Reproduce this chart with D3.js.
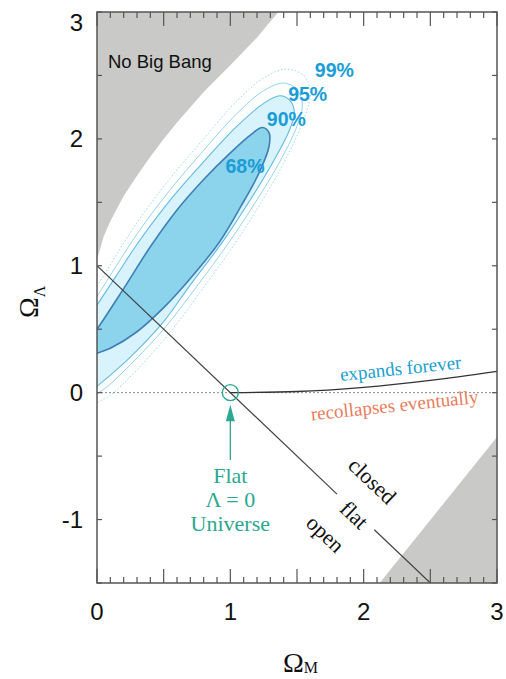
<!DOCTYPE html>
<html>
<head>
<style>
  body { margin: 0; background: #fff; }
  svg { display: block; }
  .sans { font-family: "Liberation Sans", Arial, sans-serif; }
  .serif { font-family: "Liberation Serif", "Times New Roman", serif; }
</style>
</head>
<body>
<script src="https://d3js.org/d3.v7.min.js"></script>
<script>
// axis ticks
const xTicks = [0, 1, 2, 3];
const yTicks = [-1, 0, 1, 2, 3];

// excluded regions (Omega_M, Omega_Lambda)
const noBigBang = [[0, 1.05], [0.02, 1.12], [0.05, 1.23], [0.1, 1.35], [0.2, 1.55], [0.3, 1.71],
  [0.4, 1.86], [0.5, 2.0], [0.6, 2.13], [0.8, 2.37], [1.0, 2.58], [1.2, 2.8], [1.36, 3.0], [0, 3.0]];
const lowerRightZone = [[2.12, -1.5], [3, -0.35], [3, -1.5]];

// confidence contours
const c68 = [[-0.2, 0.2], [-0.1, 0.36], [0, 0.5], [0.2, 0.82], [0.4, 1.15], [0.6, 1.44], [0.8, 1.68],
  [1.0, 1.89], [1.15, 2.03], [1.24, 2.09], [1.29, 2.05], [1.29, 1.94], [1.21, 1.72], [1.08, 1.47],
  [0.92, 1.19], [0.7, 0.9], [0.5, 0.67], [0.3, 0.48], [0.1, 0.35], [0, 0.31], [-0.15, 0.22]];
const c90 = [[-0.2, 0.38], [0, 0.69], [0.15, 0.93], [0.3, 1.17], [0.55, 1.52], [0.8, 1.82], [1.05, 2.1],
  [1.25, 2.28], [1.37, 2.34], [1.45, 2.3], [1.48, 2.2], [1.44, 2.06], [1.3, 1.78], [1.15, 1.52],
  [0.95, 1.2], [0.7, 0.85], [0.5, 0.56], [0.25, 0.28], [0.08, 0.12], [0, 0.05], [-0.2, -0.12]];
const c95 = [[-0.2, 0.45], [0, 0.76], [0.3, 1.25], [0.55, 1.6], [0.8, 1.91], [1.05, 2.2], [1.25, 2.38],
  [1.4, 2.44], [1.5, 2.39], [1.54, 2.27], [1.5, 2.1], [1.36, 1.8], [1.2, 1.52], [1.0, 1.2],
  [0.75, 0.84], [0.5, 0.5], [0.25, 0.22], [0.08, 0.05], [0, -0.01], [-0.2, -0.18]];
const c99 = [[-0.2, 0.52], [0, 0.84], [0.3, 1.34], [0.55, 1.69], [0.8, 2.0], [1.05, 2.3], [1.25, 2.48],
  [1.42, 2.55], [1.55, 2.5], [1.6, 2.37], [1.56, 2.18], [1.42, 1.85], [1.26, 1.55], [1.05, 1.2],
  [0.8, 0.83], [0.55, 0.48], [0.3, 0.18], [0.1, -0.02], [0, -0.08], [-0.2, -0.24]];
const contourLabels = [
  { text: '68%', x: 1.11, y: 1.79 },
  { text: '90%', x: 1.42, y: 2.16 },
  { text: '95%', x: 1.58, y: 2.35 },
  { text: '99%', x: 1.78, y: 2.54 }
];

// expands / recollapses boundary
const expandCurve = [[1.0, 0], [1.5, 0.009], [2.0, 0.042], [2.5, 0.097], [3.0, 0.168]];
// flat universe line, split around the "flat" label
const flatSegments = [[[0, 1], [1.8, -0.8]], [[2.08, -1.08], [2.5, -1.5]]];
const flatPoint = [1, 0];

const width = 506, height = 679;
const margin = { top: 12, right: 9, bottom: 96, left: 97 };

const svg = d3.select('body').append('svg')
  .attr('width', width)
  .attr('height', height);

const x = d3.scaleLinear().domain([0, 3]).range([margin.left, width - margin.right]);
const y = d3.scaleLinear().domain([-1.5, 3]).range([height - margin.bottom, margin.top]);

svg.append('clipPath').attr('id', 'plot')
  .append('rect')
  .attr('x', x(0)).attr('y', y(3))
  .attr('width', x(3) - x(0)).attr('height', y(-1.5) - y(3));

const poly = d3.line().x(d => x(d[0])).y(d => y(d[1]));
const smooth = d3.line().x(d => x(d[0])).y(d => y(d[1])).curve(d3.curveCatmullRomClosed.alpha(0.5));
const curve = d3.line().x(d => x(d[0])).y(d => y(d[1])).curve(d3.curveMonotoneX);

const plot = svg.append('g').attr('clip-path', 'url(#plot)');

// grey regions
plot.append('path').attr('d', poly(noBigBang) + 'Z').attr('fill', '#c9c9c7');
plot.append('path').attr('d', poly(lowerRightZone) + 'Z').attr('fill', '#c9c9c7');

// contours
plot.append('path').attr('d', smooth(c99))
  .attr('fill', 'none').attr('stroke', '#8fd4ef').attr('stroke-width', 0.9)
  .attr('stroke-dasharray', '1.5,2');
plot.append('path').attr('d', smooth(c95))
  .attr('fill', 'none').attr('stroke', '#86d0ee').attr('stroke-width', 0.9);
plot.append('path').attr('d', smooth(c90))
  .attr('fill', '#d8f3fb').attr('stroke', '#5fbbe4').attr('stroke-width', 1.1);
plot.append('path').attr('d', smooth(c68))
  .attr('fill', '#8cd3ec').attr('stroke', '#3f7fb6').attr('stroke-width', 1.6);

// Omega_Lambda = 0 dotted line
plot.append('line')
  .attr('x1', x(0)).attr('x2', x(3))
  .attr('y1', y(0)).attr('y2', y(0))
  .attr('stroke', '#888').attr('stroke-width', 1)
  .attr('stroke-dasharray', '2,2');

// expansion boundary
plot.append('path').attr('d', curve(expandCurve))
  .attr('fill', 'none').attr('stroke', '#333').attr('stroke-width', 1.4);

// flat line
flatSegments.forEach(seg => {
  plot.append('path').attr('d', poly(seg))
    .attr('fill', 'none').attr('stroke', '#444').attr('stroke-width', 1.2);
});

// contour labels
svg.append('g').selectAll('text')
  .data(contourLabels)
  .join('text')
  .attr('class', 'sans')
  .attr('x', d => x(d.x))
  .attr('y', d => y(d.y))
  .attr('dy', '0.36em')
  .attr('text-anchor', 'middle')
  .attr('font-size', 19.5)
  .attr('font-weight', 'bold')
  .attr('fill', '#1a9dd6')
  .text(d => d.text);

svg.append('text').attr('class', 'sans')
  .attr('x', x(0.082)).attr('y', y(2.56))
  .attr('font-size', 18.5).attr('fill', '#111')
  .text('No Big Bang');

// expands / recollapses labels
const tilt = -6;
[['expands forever', 2.277, 0.189, '#1b9fd0'], ['recollapses eventually', 2.232, -0.102, '#e87d5c']]
  .forEach(([t, dx, dy, col]) => {
    svg.append('text').attr('class', 'serif')
      .attr('transform', `translate(${x(dx)},${y(dy)}) rotate(${tilt})`)
      .attr('text-anchor', 'middle').attr('dy', '0.32em')
      .attr('font-size', 19).attr('fill', col)
      .text(t);
  });

// closed / flat / open labels along the flat line
const angle = Math.atan2(y(0) - y(1), x(1) - x(0)) * 180 / Math.PI;
[['closed', 2.06, -0.70], ['flat', 1.925, -0.969], ['open', 1.708, -1.118]]
  .forEach(([t, dx, dy]) => {
    svg.append('text').attr('class', 'serif')
      .attr('transform', `translate(${x(dx)},${y(dy)}) rotate(${angle})`)
      .attr('text-anchor', 'middle').attr('dy', '0.3em')
      .attr('font-size', 22).attr('fill', '#111')
      .text(t);
  });

// flat Lambda = 0 universe marker
const teal = '#2aa891';
svg.append('circle')
  .attr('cx', x(flatPoint[0])).attr('cy', y(flatPoint[1])).attr('r', 8)
  .attr('fill', 'none').attr('stroke', teal).attr('stroke-width', 1.4);
svg.append('line')
  .attr('x1', x(1)).attr('x2', x(1))
  .attr('y1', y(-0.53)).attr('y2', y(-0.2))
  .attr('stroke', teal).attr('stroke-width', 1.3);
svg.append('path')
  .attr('d', `M${x(1)},${y(-0.095)} L${x(1) - 4.5},${y(-0.225)} L${x(1) + 4.5},${y(-0.225)} Z`)
  .attr('fill', teal);
[['Flat', -0.709], ['\u039B = 0', -0.898], ['Universe', -1.087]].forEach(([t, v]) => {
  svg.append('text').attr('class', 'serif')
    .attr('x', x(1)).attr('y', y(v))
    .attr('text-anchor', 'middle')
    .attr('font-size', 22).attr('fill', teal)
    .text(t);
});

// ticks (inward)
const tickG = svg.append('g').attr('stroke', '#555').attr('stroke-width', 1.2);
const minorX = d3.range(0, 3.001, 0.1);
minorX.forEach(v => {
  const major = Math.abs(v * 2 - Math.round(v * 2)) < 1e-6;
  const len = major ? 14 : 6;
  tickG.append('line').attr('x1', x(v)).attr('x2', x(v)).attr('y1', y(-1.5)).attr('y2', y(-1.5) - len);
  tickG.append('line').attr('x1', x(v)).attr('x2', x(v)).attr('y1', y(3)).attr('y2', y(3) + len);
});
d3.range(-1.5, 3.001, 0.5).forEach(v => {
  tickG.append('line').attr('x1', x(0)).attr('x2', x(0) + 5).attr('y1', y(v)).attr('y2', y(v));
  tickG.append('line').attr('x1', x(3)).attr('x2', x(3) - 5).attr('y1', y(v)).attr('y2', y(v));
});

// frame
svg.append('rect')
  .attr('x', x(0)).attr('y', y(3))
  .attr('width', x(3) - x(0)).attr('height', y(-1.5) - y(3))
  .attr('fill', 'none').attr('stroke', '#555').attr('stroke-width', 1.5);

// tick labels
svg.append('g').selectAll('text')
  .data(xTicks)
  .join('text')
  .attr('class', 'sans')
  .attr('x', d => x(d)).attr('y', y(-1.5) + 37)
  .attr('text-anchor', 'middle')
  .attr('font-size', 24).attr('fill', '#111')
  .text(d => d);

svg.append('g').selectAll('text')
  .data(yTicks)
  .join('text')
  .attr('class', 'sans')
  .attr('x', x(0) - 14).attr('y', d => y(d) + (d === 3 ? 11 : 0))
  .attr('dy', '0.35em')
  .attr('text-anchor', 'end')
  .attr('font-size', 24).attr('fill', '#111')
  .text(d => d < 0 ? '-' + Math.abs(d) : d);

// axis titles
const xt = svg.append('text').attr('class', 'serif')
  .attr('x', 283).attr('y', 672).attr('fill', '#111');
xt.append('tspan').attr('font-size', 28).text('\u03A9');
xt.append('tspan').attr('font-size', 16).attr('dy', 1).text('M');

const yt = svg.append('text').attr('class', 'serif')
  .attr('transform', 'translate(38,318) rotate(-90)').attr('fill', '#111');
yt.append('tspan').attr('font-size', 28).text('\u03A9');
yt.append('tspan').attr('font-size', 16).attr('dy', 7).text('\u039B');
</script>
</body>
</html>
